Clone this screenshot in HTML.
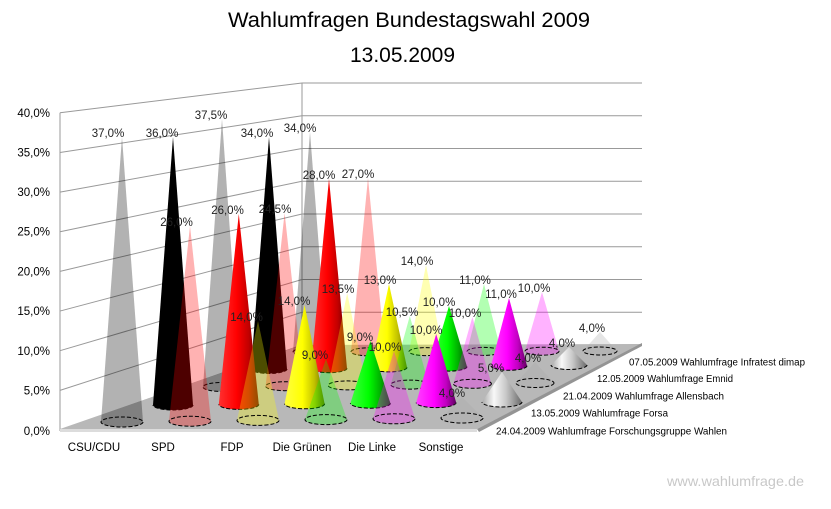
<!DOCTYPE html>
<html><head><meta charset="utf-8"><style>
html,body{margin:0;padding:0;background:#fff;}
svg{display:block;}
text{font-family:"Liberation Sans",Arial,sans-serif;}
</style></head><body>
<svg width="831" height="509" viewBox="0 0 831 509" xmlns="http://www.w3.org/2000/svg">
<defs>
<linearGradient id="gr" x1="0" x2="1" y1="0" y2="0"><stop offset="0" stop-color="#ff3030"/><stop offset=".45" stop-color="#ff0000"/><stop offset=".75" stop-color="#c00000"/><stop offset="1" stop-color="#600000"/></linearGradient>
<linearGradient id="gy" x1="0" x2="1" y1="0" y2="0"><stop offset="0" stop-color="#ffff40"/><stop offset=".45" stop-color="#ffff00"/><stop offset=".75" stop-color="#c0c000"/><stop offset="1" stop-color="#6a6a00"/></linearGradient>
<linearGradient id="gg" x1="0" x2="1" y1="0" y2="0"><stop offset="0" stop-color="#40ff40"/><stop offset=".45" stop-color="#00ff00"/><stop offset=".75" stop-color="#00b000"/><stop offset="1" stop-color="#005a00"/></linearGradient>
<linearGradient id="gm" x1="0" x2="1" y1="0" y2="0"><stop offset="0" stop-color="#ff40ff"/><stop offset=".45" stop-color="#ff00ff"/><stop offset=".75" stop-color="#c000c0"/><stop offset="1" stop-color="#600060"/></linearGradient>
<linearGradient id="gs" x1="0" x2="1" y1="0" y2="0"><stop offset="0" stop-color="#a8a8a8"/><stop offset=".3" stop-color="#f8f8f8"/><stop offset=".6" stop-color="#c8c8c8"/><stop offset="1" stop-color="#6a6a6a"/></linearGradient>
</defs>

<!-- Titles -->
<text x="409" y="27" font-size="21" text-anchor="middle" textLength="362" lengthAdjust="spacingAndGlyphs" fill="#000">Wahlumfragen Bundestagswahl 2009</text>
<text x="402.5" y="62" font-size="21" text-anchor="middle" textLength="105" lengthAdjust="spacingAndGlyphs" fill="#000">13.05.2009</text>

<!-- Walls gridlines -->
<g stroke="#999" stroke-width="1" fill="none">
<line x1="60" y1="430" x2="302" y2="345"/>
<line x1="60" y1="390.35" x2="302" y2="312.25"/>
<line x1="60" y1="350.7" x2="302" y2="279.5"/>
<line x1="60" y1="311.05" x2="302" y2="246.75"/>
<line x1="60" y1="271.4" x2="302" y2="214"/>
<line x1="60" y1="231.75" x2="302" y2="181.25"/>
<line x1="60" y1="192.1" x2="302" y2="148.5"/>
<line x1="60" y1="152.45" x2="302" y2="115.75"/>
<line x1="60" y1="112.8" x2="302" y2="83"/>
<line x1="302" y1="312.25" x2="642" y2="312.25"/>
<line x1="302" y1="279.5" x2="642" y2="279.5"/>
<line x1="302" y1="246.75" x2="642" y2="246.75"/>
<line x1="302" y1="214" x2="642" y2="214"/>
<line x1="302" y1="181.25" x2="642" y2="181.25"/>
<line x1="302" y1="148.5" x2="642" y2="148.5"/>
<line x1="302" y1="115.75" x2="642" y2="115.75"/>
<line x1="302" y1="83" x2="642" y2="83"/>
<line x1="302" y1="83" x2="302" y2="345"/>
<line x1="60" y1="112.8" x2="60" y2="431"/>
</g>

<!-- Floor -->
<polygon points="60,429 302,345 642,344 477,429" fill="#b8b8b8"/>
<polygon points="60,429 477,429 477,432 60,432" fill="#dcdcdc"/>
<polygon points="477,429 642,343 642,346 479,432" fill="#949494"/>

<!-- Row 4 (back, translucent) -->
<g stroke="none">
<path d="M293 352L310 132L327 352A17 4 0 0 1 293 352Z" fill="#000" fill-opacity=".3"/>
<path d="M351 351.8L368 178L385 351.8A17 4 0 0 1 351 351.8Z" fill="#ff0000" fill-opacity=".3"/>
<path d="M409 351.6L426 265L443 351.6A17 4 0 0 1 409 351.6Z" fill="#ffff00" fill-opacity=".3"/>
<path d="M467 351.4L484 284L501 351.4A17 4 0 0 1 467 351.4Z" fill="#00ff00" fill-opacity=".3"/>
<path d="M525 351.2L542 292L559 351.2A17 4 0 0 1 525 351.2Z" fill="#ff00ff" fill-opacity=".3"/>
<path d="M583 351L600 332L617 351A17 4 0 0 1 583 351Z" fill="#a8a8a8" fill-opacity=".3"/>
</g>
<g fill="none" stroke="#000" stroke-dasharray="4 2">
<ellipse cx="310" cy="352" rx="17" ry="4"/>
<ellipse cx="368" cy="351.8" rx="17" ry="4"/>
<ellipse cx="426" cy="351.6" rx="17" ry="4"/>
<ellipse cx="484" cy="351.4" rx="17" ry="4"/>
<ellipse cx="542" cy="351.2" rx="17" ry="4"/>
<ellipse cx="600" cy="351" rx="17" ry="4"/>
</g>

<!-- Row 3 (opaque) -->
<path d="M251 369L269 137L287 369A18 4.5 0 0 1 251 369Z" fill="#000"/>
<path d="M287 369A18 4.5 0 0 1 251 369" fill="none" stroke="#000" stroke-dasharray="4 2"/>
<path d="M311 368.2L329 179L347 368.2A18 4.5 0 0 1 311 368.2Z" fill="url(#gr)"/>
<path d="M347 368.2A18 4.5 0 0 1 311 368.2" fill="none" stroke="#000" stroke-dasharray="4 2"/>
<path d="M371 367.4L389 284L407 367.4A18 4.5 0 0 1 371 367.4Z" fill="url(#gy)"/>
<path d="M407 367.4A18 4.5 0 0 1 371 367.4" fill="none" stroke="#000" stroke-dasharray="4 2"/>
<path d="M431 366.6L449 306L467 366.6A18 4.5 0 0 1 431 366.6Z" fill="url(#gg)"/>
<path d="M467 366.6A18 4.5 0 0 1 431 366.6" fill="none" stroke="#000" stroke-dasharray="4 2"/>
<path d="M491 365.8L509 298L527 365.8A18 4.5 0 0 1 491 365.8Z" fill="url(#gm)"/>
<path d="M527 365.8A18 4.5 0 0 1 491 365.8" fill="none" stroke="#000" stroke-dasharray="4 2"/>
<path d="M551 365L569 347L587 365A18 4.5 0 0 1 551 365Z" fill="url(#gs)"/>
<path d="M587 365A18 4.5 0 0 1 551 365" fill="none" stroke="#000" stroke-dasharray="4 2"/>

<!-- Row 2 (translucent) -->
<g stroke="none">
<path d="M203 387L222 119L241 387A19 4.5 0 0 1 203 387Z" fill="#000" fill-opacity=".3"/>
<path d="M265.6 386.2L284.6 213L303.6 386.2A19 4.5 0 0 1 265.6 386.2Z" fill="#ff0000" fill-opacity=".3"/>
<path d="M328.2 385.4L347.2 293L366.2 385.4A19 4.5 0 0 1 328.2 385.4Z" fill="#ffff00" fill-opacity=".3"/>
<path d="M390.8 384.6L409.8 316L428.8 384.6A19 4.5 0 0 1 390.8 384.6Z" fill="#00ff00" fill-opacity=".3"/>
<path d="M453.4 383.8L472.4 317L491.4 383.8A19 4.5 0 0 1 453.4 383.8Z" fill="#ff00ff" fill-opacity=".3"/>
<path d="M516 383L535 362L554 383A19 4.5 0 0 1 516 383Z" fill="#a8a8a8" fill-opacity=".3"/>
</g>
<g fill="none" stroke="#000" stroke-dasharray="4 2">
<ellipse cx="222" cy="387" rx="19" ry="4.5"/>
<ellipse cx="284.6" cy="386.2" rx="19" ry="4.5"/>
<ellipse cx="347.2" cy="385.4" rx="19" ry="4.5"/>
<ellipse cx="409.8" cy="384.6" rx="19" ry="4.5"/>
<ellipse cx="472.4" cy="383.8" rx="19" ry="4.5"/>
<ellipse cx="535" cy="383" rx="19" ry="4.5"/>
</g>

<!-- Row 1 (opaque) -->
<path d="M153 405L173 137L193 405A20 5 0 0 1 153 405Z" fill="#000"/>
<path d="M193 405A20 5 0 0 1 153 405" fill="none" stroke="#000" stroke-dasharray="4 2"/>
<path d="M218.8 404.4L238.8 214L258.8 404.4A20 5 0 0 1 218.8 404.4Z" fill="url(#gr)"/>
<path d="M258.8 404.4A20 5 0 0 1 218.8 404.4" fill="none" stroke="#000" stroke-dasharray="4 2"/>
<path d="M284.6 403.8L304.6 305L324.6 403.8A20 5 0 0 1 284.6 403.8Z" fill="url(#gy)"/>
<path d="M324.6 403.8A20 5 0 0 1 284.6 403.8" fill="none" stroke="#000" stroke-dasharray="4 2"/>
<path d="M350.4 403.2L370.4 341L390.4 403.2A20 5 0 0 1 350.4 403.2Z" fill="url(#gg)"/>
<path d="M390.4 403.2A20 5 0 0 1 350.4 403.2" fill="none" stroke="#000" stroke-dasharray="4 2"/>
<path d="M416.2 402.6L436.2 334L456.2 402.6A20 5 0 0 1 416.2 402.6Z" fill="url(#gm)"/>
<path d="M456.2 402.6A20 5 0 0 1 416.2 402.6" fill="none" stroke="#000" stroke-dasharray="4 2"/>
<path d="M482 402L502 372L522 402A20 5 0 0 1 482 402Z" fill="url(#gs)"/>
<path d="M522 402A20 5 0 0 1 482 402" fill="none" stroke="#000" stroke-dasharray="4 2"/>

<!-- Row 0 (front, translucent) -->
<g stroke="none">
<path d="M101 422L122 137L143 422A21 5 0 0 1 101 422Z" fill="#000" fill-opacity=".3"/>
<path d="M169 421.2L190 226L211 421.2A21 5 0 0 1 169 421.2Z" fill="#ff0000" fill-opacity=".3"/>
<path d="M237 420.4L258 321L279 420.4A21 5 0 0 1 237 420.4Z" fill="#ffff00" fill-opacity=".3"/>
<path d="M305 419.6L326 359L347 419.6A21 5 0 0 1 305 419.6Z" fill="#00ff00" fill-opacity=".3"/>
<path d="M373 418.8L394 351L415 418.8A21 5 0 0 1 373 418.8Z" fill="#ff00ff" fill-opacity=".3"/>
<path d="M441 418L462 397L483 418A21 5 0 0 1 441 418Z" fill="#a8a8a8" fill-opacity=".3"/>
</g>
<g fill="none" stroke="#000" stroke-dasharray="4 2">
<ellipse cx="122" cy="422" rx="21" ry="5"/>
<ellipse cx="190" cy="421.2" rx="21" ry="5"/>
<ellipse cx="258" cy="420.4" rx="21" ry="5"/>
<ellipse cx="326" cy="419.6" rx="21" ry="5"/>
<ellipse cx="394" cy="418.8" rx="21" ry="5"/>
<ellipse cx="462" cy="418" rx="21" ry="5"/>
</g>

<!-- Data labels -->
<g font-size="11.5" fill="#222" text-anchor="middle">
<text x="108" y="137">37,0%</text>
<text x="176.5" y="226">26,0%</text>
<text x="246.5" y="321">14,0%</text>
<text x="315" y="359">9,0%</text>
<text x="385" y="351">10,0%</text>
<text x="452" y="397">4,0%</text>
<text x="162" y="137">36,0%</text>
<text x="227.5" y="214">26,0%</text>
<text x="294" y="305">14,0%</text>
<text x="360" y="341">9,0%</text>
<text x="426" y="334">10,0%</text>
<text x="491" y="372">5,0%</text>
<text x="211" y="119">37,5%</text>
<text x="275" y="213">24,5%</text>
<text x="338" y="293">13,5%</text>
<text x="402" y="316">10,5%</text>
<text x="465" y="317">10,0%</text>
<text x="528" y="362">4,0%</text>
<text x="257" y="137">34,0%</text>
<text x="319" y="179">28,0%</text>
<text x="380" y="284">13,0%</text>
<text x="439" y="306">10,0%</text>
<text x="501" y="298">11,0%</text>
<text x="562" y="347">4,0%</text>
<text x="300" y="132">34,0%</text>
<text x="358" y="178">27,0%</text>
<text x="417" y="265">14,0%</text>
<text x="475" y="284">11,0%</text>
<text x="534" y="292">10,0%</text>
<text x="592" y="332">4,0%</text>
</g>

<!-- Y axis labels -->
<g font-size="11.5" fill="#000" text-anchor="end">
<text x="50" y="117">40,0%</text>
<text x="50" y="156.5">35,0%</text>
<text x="50" y="196">30,0%</text>
<text x="50" y="235.5">25,0%</text>
<text x="50" y="275.5">20,0%</text>
<text x="50" y="315">15,0%</text>
<text x="50" y="355">10,0%</text>
<text x="50" y="394.5">5,0%</text>
<text x="50" y="435">0,0%</text>
</g>

<!-- Category labels -->
<g font-size="11.5" fill="#000" text-anchor="middle">
<text x="94" y="451">CSU/CDU</text>
<text x="163" y="451">SPD</text>
<text x="232" y="451">FDP</text>
<text x="302" y="451">Die Grünen</text>
<text x="372" y="451">Die Linke</text>
<text x="441" y="451">Sonstige</text>
</g>

<!-- Series labels -->
<g font-size="10" fill="#000">
<text x="629" y="365.5" textLength="176" lengthAdjust="spacingAndGlyphs">07.05.2009 Wahlumfrage Infratest dimap</text>
<text x="597" y="382" textLength="136" lengthAdjust="spacingAndGlyphs">12.05.2009 Wahlumfrage Emnid</text>
<text x="563" y="399.5" textLength="161" lengthAdjust="spacingAndGlyphs">21.04.2009 Wahlumfrage Allensbach</text>
<text x="531" y="416.5" textLength="137" lengthAdjust="spacingAndGlyphs">13.05.2009 Wahlumfrage Forsa</text>
<text x="496" y="434.5" textLength="231" lengthAdjust="spacingAndGlyphs">24.04.2009 Wahlumfrage Forschungsgruppe Wahlen</text>
</g>

<!-- Watermark -->
<text x="667" y="486" font-size="14" fill="#c8c8c8" textLength="137" lengthAdjust="spacingAndGlyphs">www.wahlumfrage.de</text>
</svg>
</body></html>
